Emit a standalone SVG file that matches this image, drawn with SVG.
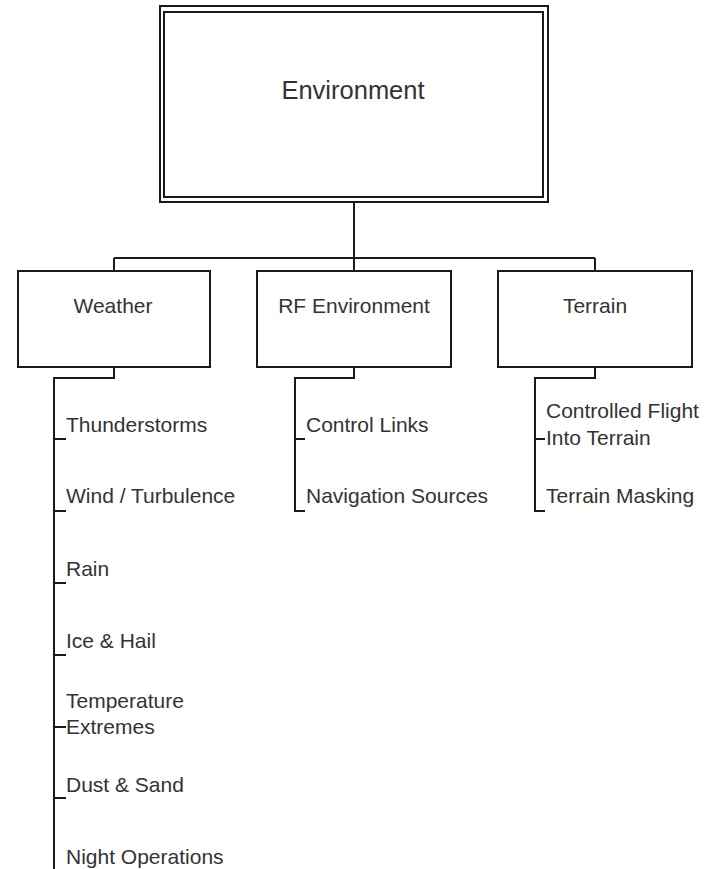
<svg xmlns="http://www.w3.org/2000/svg" width="707" height="869" viewBox="0 0 707 869">
<style>
  .box { fill: #ffffff; stroke: #1a1a1a; stroke-width: 2; }
  .ln { fill: none; stroke: #1a1a1a; stroke-width: 2; }
  text { font-family: "Liberation Sans", Arial, sans-serif; fill: #333333; }
  .t { font-size: 21px; }
  .h { font-size: 25.5px; text-anchor: middle; }
  .c { text-anchor: middle; }
</style>
<rect width="707" height="869" fill="#ffffff"/>
<g id="connectors">
  <path class="ln" d="M354,202 V258 M114,258 H595 M114,258 V271 M354,258 V271 M595,258 V271"/>
  <path class="ln" d="M114,367 V378 H54 V869 M54,439 H66 M54,511 H66 M54,583 H66 M54,655 H66 M54,727 H66 M54,798 H66"/>
  <path class="ln" d="M354,367 V378 H295 V511 H305 M295,439 H305"/>
  <path class="ln" d="M595,367 V378 H535 V511 H545 M535,439 H545"/>
</g>
<g id="environment">
  <rect class="box" x="160" y="6" width="388" height="196"/>
  <rect class="box" x="164" y="12" width="379" height="185"/>
  <text class="h" x="353" y="99">Environment</text>
</g>
<g id="weather">
  <rect class="box" x="18" y="271" width="192" height="96"/>
  <text class="t c" x="113" y="313">Weather</text>
</g>
<g id="rf-environment">
  <rect class="box" x="257" y="271" width="194" height="96"/>
  <text class="t c" x="354" y="313">RF Environment</text>
</g>
<g id="terrain">
  <rect class="box" x="498" y="271" width="194" height="96"/>
  <text class="t c" x="595" y="313">Terrain</text>
</g>
<g id="thunderstorms"><text class="t" x="66" y="432">Thunderstorms</text></g>
<g id="wind"><text class="t" x="66" y="503">Wind / Turbulence</text></g>
<g id="rain"><text class="t" x="66" y="576">Rain</text></g>
<g id="ice"><text class="t" x="66" y="648">Ice &amp; Hail</text></g>
<g id="temperature"><text class="t" x="66" y="708">Temperature</text><text class="t" x="66" y="734">Extremes</text></g>
<g id="dust"><text class="t" x="66" y="792">Dust &amp; Sand</text></g>
<g id="night"><text class="t" x="66" y="864">Night Operations</text></g>
<g id="control-links"><text class="t" x="306" y="432">Control Links</text></g>
<g id="navigation"><text class="t" x="306" y="503">Navigation Sources</text></g>
<g id="cfit"><text class="t" x="546" y="418">Controlled Flight</text><text class="t" x="546" y="445">Into Terrain</text></g>
<g id="masking"><text class="t" x="546" y="503">Terrain Masking</text></g>
</svg>
